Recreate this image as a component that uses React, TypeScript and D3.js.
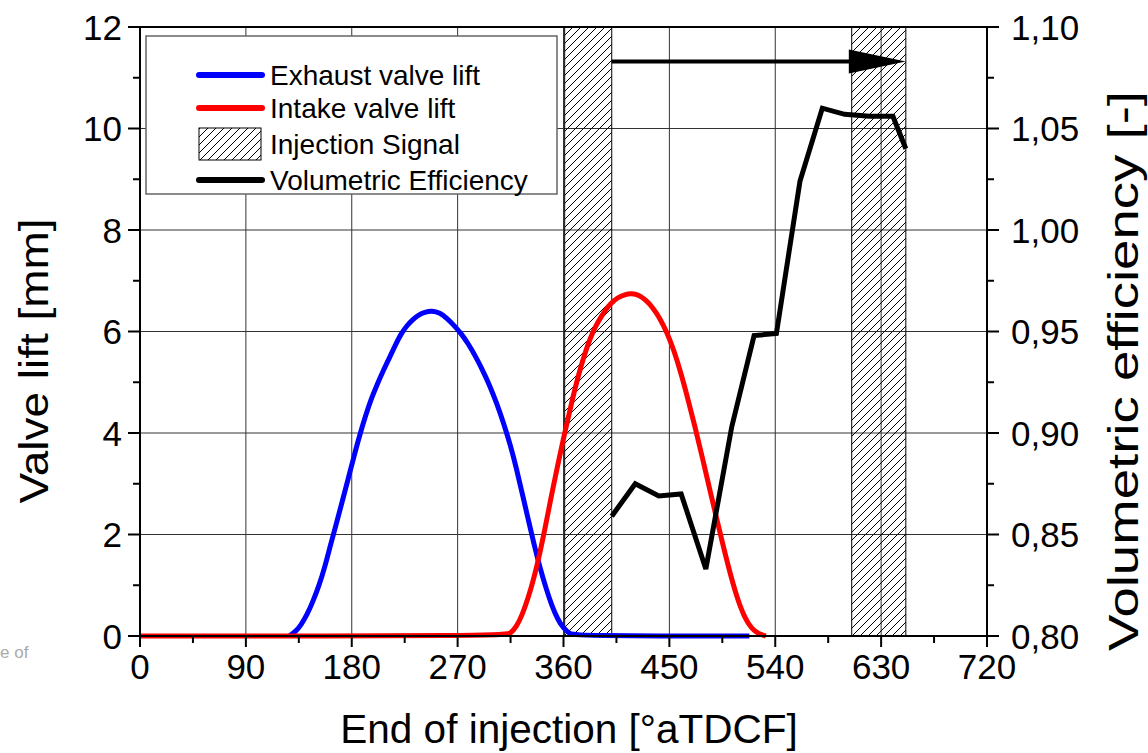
import React from "react"
import * as d3 from "d3"

// crank angle [°] / lift [mm]
const exhaustLift: [number, number][] = [
  [127, 0], [132, 0.08], [137, 0.22], [142, 0.42], [147, 0.68], [152, 0.98],
  [157, 1.35], [162, 1.8], [167, 2.22], [172, 2.66], [177, 3.1], [182, 3.55],
  [187, 3.98], [192, 4.36], [197, 4.7], [202, 4.98], [207, 5.24], [212, 5.48],
  [217, 5.73], [222, 5.96], [227, 6.12], [232, 6.24], [237, 6.33], [242, 6.38],
  [248, 6.41], [255, 6.37], [261, 6.26], [267, 6.12], [273, 5.96], [279, 5.76],
  [285, 5.52], [291, 5.25], [297, 4.95], [303, 4.6], [309, 4.2], [315, 3.75],
  [320, 3.3], [325, 2.8], [330, 2.3], [335, 1.8], [340, 1.35], [345, 0.95],
  [350, 0.6], [355, 0.33], [360, 0.15], [365, 0.05], [370, 0], [518, 0],
]

const intakeLift: [number, number][] = [
  [0, 0], [310, 0], [315, 0.05], [320, 0.18], [325, 0.42], [330, 0.75],
  [335, 1.15], [340, 1.64], [345, 2.2], [350, 2.8], [355, 3.36], [360, 3.9],
  [365, 4.4], [370, 4.9], [375, 5.33], [380, 5.7], [385, 6.0], [390, 6.22],
  [395, 6.4], [400, 6.55], [406, 6.67], [412, 6.73], [418, 6.75], [424, 6.72],
  [430, 6.62], [436, 6.47], [442, 6.26], [448, 5.98], [454, 5.62], [460, 5.17],
  [466, 4.65], [472, 4.1], [478, 3.52], [484, 2.92], [490, 2.33], [496, 1.75],
  [502, 1.2], [508, 0.72], [514, 0.36], [520, 0.14], [526, 0.04], [532, 0],
]

const volEff: [number, number][] = [
  [401, 0.859], [421, 0.875], [441, 0.869], [460, 0.87], [481, 0.833],
  [503, 0.903], [522, 0.948], [541, 0.949], [561, 1.024], [580, 1.06],
  [599, 1.057], [620, 1.056], [640, 1.056], [651, 1.04],
]

const injectionSignals: [number, number][] = [[361, 401], [605, 651]]
const arrowSpan = { from: 401, to: 651, ve: 1.083 }

const xTicks = [0, 90, 180, 270, 360, 450, 540, 630, 720]
const liftTicks = [0, 2, 4, 6, 8, 10, 12]
const veTicks = [0.8, 0.85, 0.9, 0.95, 1.0, 1.05, 1.1]

const legendItems = [
  { label: "Exhaust valve lift", kind: "line", color: "#0000ff" },
  { label: "Intake valve lift", kind: "line", color: "#ff0000" },
  { label: "Injection Signal", kind: "hatch", color: "#000" },
  { label: "Volumetric Efficiency", kind: "line", color: "#000" },
]

const font = "'Liberation Sans', Arial, sans-serif"

export default function App() {
  const width = 1148
  const height = 753
  const left = 140
  const right = 987
  const top = 27
  const bottom = 636

  const x = d3.scaleLinear().domain([0, 720]).range([left, right])
  const y = d3.scaleLinear().domain([0, 12]).range([bottom, top])
  const yr = d3.scaleLinear().domain([0.8, 1.1]).range([bottom, top])

  const liftLine = d3
    .line<[number, number]>()
    .x((d) => x(d[0]))
    .y((d) => y(d[1]))
    .curve(d3.curveBasis)
  const veLine = d3
    .line<[number, number]>()
    .x((d) => x(d[0]))
    .y((d) => yr(d[1]))

  const fmt = (v: number) => v.toFixed(2).replace(".", ",")
  const minorX = d3.range(45, 720, 90)
  const minorY = d3.range(1, 12, 2)
  const minorR = [0.825, 0.875, 0.925, 0.975, 1.025, 1.075]

  const ay = yr(arrowSpan.ve)
  const headLen = 57
  const headHalf = 12

  return (
    <svg
      width={width}
      height={height}
      style={{ position: "absolute", left: 0, top: 0, background: "#fff" }}
      fontFamily={font}
    >
      <defs>
        <pattern id="hatch" patternUnits="userSpaceOnUse" width={8} height={8}>
          <path d="M-2,2 l4,-4 M0,8 l8,-8 M6,10 l4,-4" stroke="#000" strokeWidth={1} />
        </pattern>
      </defs>
      <rect width={width} height={height} fill="#fff" />

      {/* grid */}
      {xTicks.map((t) => (
        <line key={"gx" + t} x1={x(t)} x2={x(t)} y1={top} y2={bottom} stroke="#333" strokeWidth={1} />
      ))}
      {liftTicks.map((t) => (
        <line key={"gy" + t} x1={left} x2={right} y1={y(t)} y2={y(t)} stroke="#333" strokeWidth={1} />
      ))}

      {/* injection signal */}
      {injectionSignals.map(([a, b], i) => (
        <rect
          key={"inj" + i}
          x={x(a)}
          y={top}
          width={x(b) - x(a)}
          height={bottom - top}
          fill="url(#hatch)"
          stroke="#000"
          strokeWidth={1}
        />
      ))}

      {/* legend */}
      <rect x={146} y={36} width={411} height={158} fill="#fff" stroke="#666" strokeWidth={1.5} />
      {legendItems.map((it, i) => {
        const cy = [75, 108, 144, 180][i]
        return (
          <g key={it.label}>
            {it.kind === "line" ? (
              <line x1={199} x2={262} y1={cy} y2={cy} stroke={it.color} strokeWidth={6} strokeLinecap="round" />
            ) : (
              <rect x={199} y={cy - 16} width={62} height={32} fill="url(#hatch)" stroke="#000" strokeWidth={1} />
            )}
            <text x={270} y={cy + 10} fontSize={28} fill="#000">
              {it.label}
            </text>
          </g>
        )
      })}

      {/* curves */}
      <path d={liftLine(exhaustLift) ?? ""} fill="none" stroke="#0000ff" strokeWidth={5} />
      <path d={liftLine(intakeLift) ?? ""} fill="none" stroke="#ff0000" strokeWidth={5} />
      <path d={veLine(volEff) ?? ""} fill="none" stroke="#000" strokeWidth={5} />

      {/* arrow */}
      <line x1={x(arrowSpan.from)} x2={x(arrowSpan.to) - headLen + 2} y1={ay} y2={ay} stroke="#000" strokeWidth={4} />
      <polygon
        points={`${x(arrowSpan.to) - headLen},${ay - headHalf} ${x(arrowSpan.to)},${ay} ${x(arrowSpan.to) - headLen},${ay + headHalf}`}
        fill="#000"
      />

      {/* frame */}
      <rect x={left} y={top} width={right - left} height={bottom - top} fill="none" stroke="#000" strokeWidth={2} />

      {/* bottom axis */}
      {xTicks.map((t) => (
        <g key={"tx" + t}>
          <line x1={x(t)} x2={x(t)} y1={bottom} y2={bottom + 11} stroke="#000" strokeWidth={2} />
          <text x={x(t)} y={679} textAnchor="middle" fontSize={35}>
            {t}
          </text>
        </g>
      ))}
      {minorX.map((t) => (
        <line key={"mx" + t} x1={x(t)} x2={x(t)} y1={bottom} y2={bottom + 7} stroke="#000" strokeWidth={2} />
      ))}

      {/* left axis */}
      {liftTicks.map((t) => (
        <g key={"ty" + t}>
          <line x1={left - 12} x2={left} y1={y(t)} y2={y(t)} stroke="#000" strokeWidth={2} />
          <text x={122} y={y(t) + 12.5} textAnchor="end" fontSize={35}>
            {t}
          </text>
        </g>
      ))}
      {minorY.map((t) => (
        <line key={"my" + t} x1={left - 7} x2={left} y1={y(t)} y2={y(t)} stroke="#000" strokeWidth={2} />
      ))}

      {/* right axis */}
      {veTicks.map((t) => (
        <g key={"tr" + t}>
          <line x1={right} x2={right + 12} y1={yr(t)} y2={yr(t)} stroke="#000" strokeWidth={2} />
          <text x={1011} y={yr(t) + 12.5} fontSize={35}>
            {fmt(t)}
          </text>
        </g>
      ))}
      {minorR.map((t) => (
        <line key={"mr" + t} x1={right} x2={right + 7} y1={yr(t)} y2={yr(t)} stroke="#000" strokeWidth={2} />
      ))}

      {/* titles */}
      <text x={569} y={743} textAnchor="middle" fontSize={40.5}>
        End of injection [°aTDCF]
      </text>
      <text
        transform={`translate(48,361) rotate(-90)`}
        textAnchor="middle"
        fontSize={40}
        textLength={285}
        lengthAdjust="spacingAndGlyphs"
      >
        Valve lift [mm]
      </text>
      <text
        transform={`translate(1138,371) rotate(-90)`}
        textAnchor="middle"
        fontSize={42}
        textLength={560}
        lengthAdjust="spacingAndGlyphs"
      >
        Volumetric efficiency [-]
      </text>

      <text x={0} y={658} fontSize={17} fill="#aaa">
        e of
      </text>
    </svg>
  )
}
